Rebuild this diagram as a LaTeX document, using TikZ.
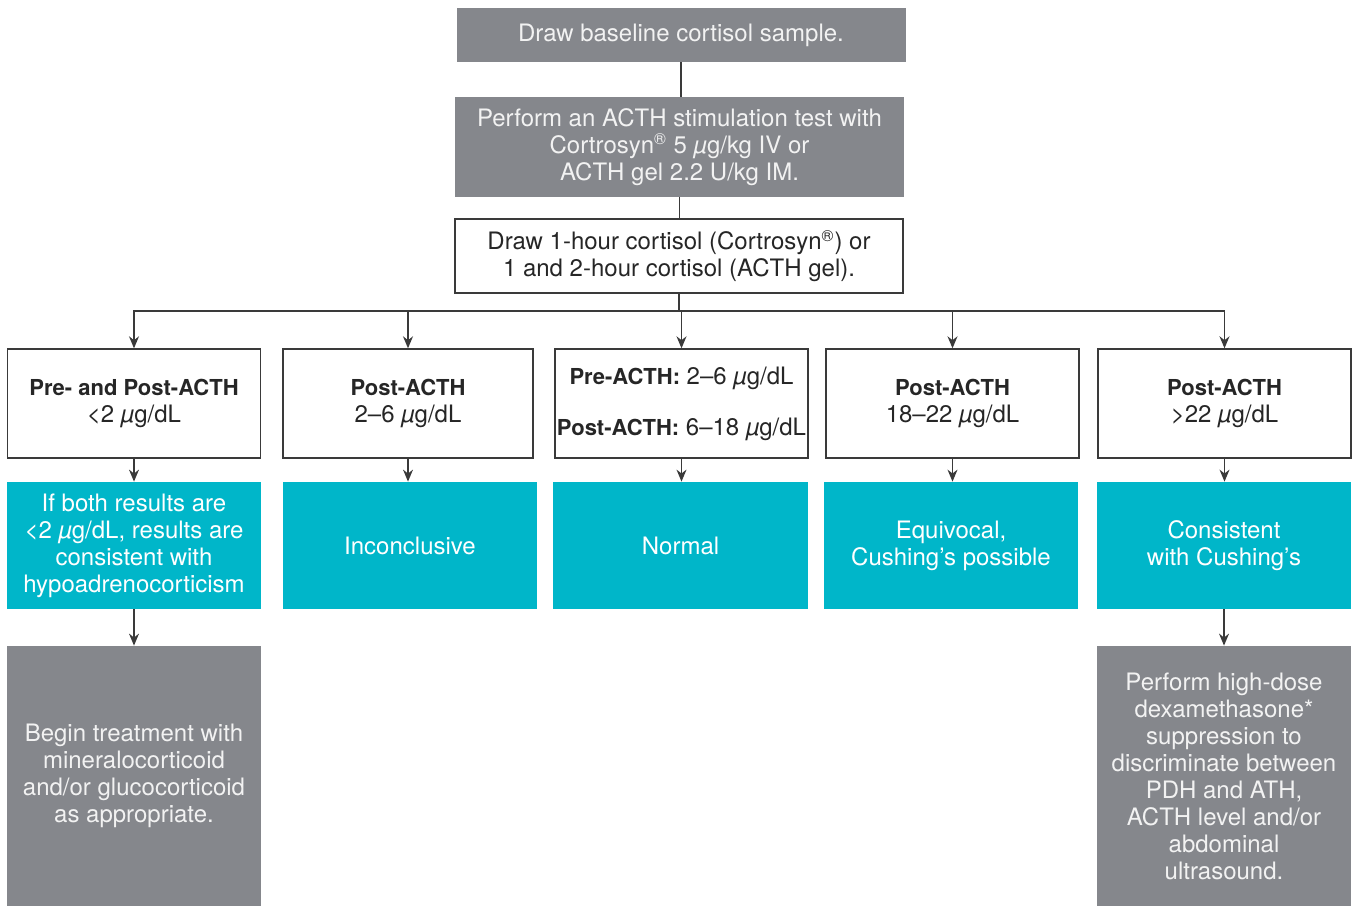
\documentclass[tikz,border=0pt]{standalone}
\usepackage{fontspec}
\setmainfont{TeX Gyre Heros}
\usepackage{tikz}
\usetikzlibrary{positioning, arrows.meta}
\definecolor{boxgray}{RGB}{133,135,140}
\definecolor{boxteal}{RGB}{0,182,201}
\definecolor{linegray}{RGB}{58,58,58}
\newcommand{\mug}{{\itshape µ}g}
\newcommand{\ug}{\mug/dL}
\newcommand{\hd}[1]{{\fontsize{11}{13.5}\selectfont\bfseries #1}}

\begin{document}
\begin{tikzpicture}[x=0.5pt, y=-0.5pt, font=\fontsize{12}{13.5}\selectfont,
    graybox/.style={fill=boxgray, text=white!95!black, align=center, inner sep=2pt},
    whitebox/.style={draw=linegray, line width=0.7pt, fill=white, text=black!85, align=center, inner sep=2pt},
    tealbox/.style={fill=boxteal, text=white, align=center, inner sep=2pt},
    link/.style={draw=linegray, line width=0.7pt},
    arr/.style={link, -{Stealth[length=6pt, width=5pt]}}]
  \useasboundingbox (0,0) rectangle (1353,906);

  % top chain
  \node[graybox, minimum width=224.5pt, minimum height=27pt] (baseline) at (681,35) {Draw baseline cortisol sample.};
  \node[graybox, minimum width=224.5pt, minimum height=50pt] (stim) at (679.5,147)
    {Perform an ACTH stimulation test with\\ Cortrosyn\textsuperscript{®} 5 \mug/kg IV or\\ ACTH gel 2.2 U/kg IM.};
  \node[whitebox, minimum width=224pt, minimum height=37pt] (draw) at (679,256)
    {Draw 1-hour cortisol (Cortrosyn\textsuperscript{®}) or\\ 1 and 2-hour cortisol (ACTH gel).};
  \coordinate (bus) at (681,311);

  % result ranges
  \node[whitebox, minimum width=126.5pt, minimum height=54.5pt] (low) at (134,403.5)
    {\hd{Pre- and Post-ACTH}\\ <2 \ug};
  \node[whitebox, minimum width=125pt, minimum height=54.5pt] (mid) at (408,403.5)
    {\hd{Post-ACTH}\\ 2–6 \ug};
  \node[whitebox, minimum width=126.5pt, minimum height=54.5pt, inner sep=0.5pt] (norm) at (681.5,403.5)
    {\hd{Pre-ACTH:} 2–6 \ug\\[12pt] \hd{Post-ACTH:} 6–18 \ug};
  \node[whitebox, minimum width=126.5pt, minimum height=54.5pt] (equi) at (952.5,403.5)
    {\hd{Post-ACTH}\\ 18–22 \ug};
  \node[whitebox, minimum width=126.5pt, minimum height=54.5pt] (high) at (1224.5,403.5)
    {\hd{Post-ACTH}\\ >22 \ug};

  % interpretation
  \node[tealbox, minimum width=127pt, minimum height=63.5pt] (hypo) at (134,545.5)
    {If both results are\\ <2 \ug, results are\\ consistent with\\ hypoadrenocorticism};
  \node[tealbox, minimum width=127pt, minimum height=63.5pt] (incon) at (410,545.5) {Inconclusive};
  \node[tealbox, minimum width=127.5pt, minimum height=63.5pt] (normal) at (680.5,545.5) {Normal};
  \node[tealbox, minimum width=127pt, minimum height=63.5pt] (poss) at (951,545.5) {Equivocal,\\ Cushing’s possible};
  \node[tealbox, minimum width=127pt, minimum height=63.5pt] (cush) at (1224,545.5) {Consistent\\ with Cushing’s};

  % next steps
  \node[graybox, minimum width=127pt, minimum height=130pt] (treat) at (134,776)
    {Begin treatment with\\ mineralocorticoid\\ and/or glucocorticoid\\ as appropriate.};
  \node[graybox, minimum width=127pt, minimum height=130pt] (dex) at (1224,776)
    {Perform high-dose\\ dexamethasone*\\ suppression to\\ discriminate between\\ PDH and ATH,\\ ACTH level and/or\\ abdominal\\ ultrasound.};

  \draw[link] (baseline.south) -- (baseline.south |- stim.north);
  \draw[link] (stim.south) -- (stim.south |- draw.north);
  \draw[link] (draw.south) -- (draw.south |- bus);
  \foreach \n in {low, mid, norm, equi, high}
    \draw[arr] (bus) -| (\n.north);
  \draw[arr] (low) -- (low.south |- hypo.north);
  \draw[arr] (mid) -- (mid.south |- incon.north);
  \draw[arr] (norm) -- (norm.south |- normal.north);
  \draw[arr] (equi) -- (equi.south |- poss.north);
  \draw[arr] (high) -- (high.south |- cush.north);
  \draw[arr] (hypo) -- (hypo.south |- treat.north);
  \draw[arr] (cush) -- (cush.south |- dex.north);
\end{tikzpicture}
\end{document}
